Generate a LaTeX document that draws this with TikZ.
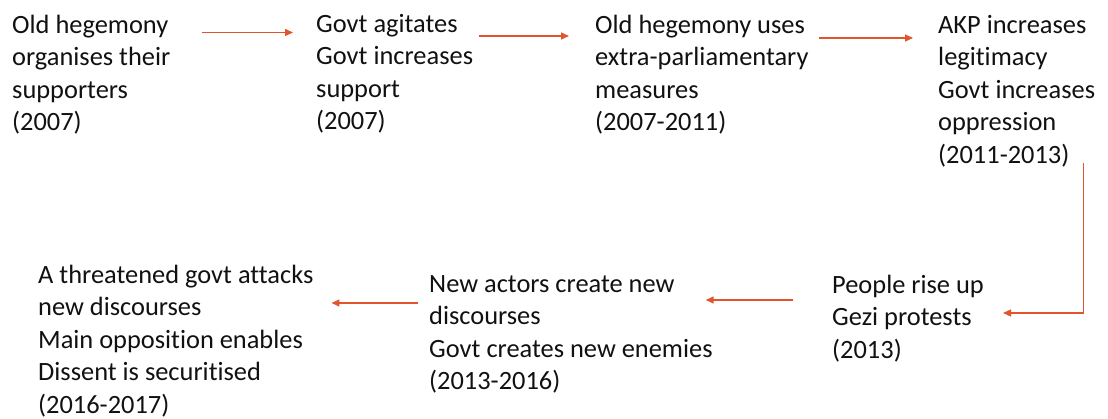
\documentclass[tikz,border=0pt]{standalone}
\usepackage{fontspec}
\setmainfont{Carlito}[Ligatures=NoCommon]
\usetikzlibrary{arrows.meta,positioning}
\definecolor{ink}{HTML}{111111}
\definecolor{rust}{HTML}{E0552B}

\begin{document}
\begin{tikzpicture}[x=1pt,y=-1pt,
    stage/.style={anchor=north west,inner sep=0pt,align=left,text=ink,
                  font=\fontsize{26.4}{32.5}\selectfont},
    flow/.style={draw=rust,line width=1.5pt,-{Triangle[length=8pt,width=7pt]}}]
  \useasboundingbox[fill=white] (0,0) rectangle (1108,419);

  % top row
  \node[stage] (old)   at (12,10.25)  {\strut Old hegemony\\organises their\\supporters\\(2007)};
  \node[stage] (agit)  at (316,9.25)  {\strut Govt agitates\\Govt increases\\support\\(2007)};
  \node[stage] (extra) at (595,10.25) {\strut Old hegemony uses\\extra-parliamentary\\measures\\(2007-2011)};
  \node[stage] (akp)   at (938,10.25) {\strut AKP increases\\legitimacy\\Govt increases\\oppression\\(2011-2013)};

  % bottom row
  \node[stage] (gezi)   at (832,270.25) {\strut People rise up\\Gezi protests\\(2013)};
  \node[stage] (actors) at (429,269.25) {\strut New actors create new\\discourses\\Govt creates new enemies\\(2013-2016)};
  \node[stage] (threat) at (38,260.25)  {\strut A threatened govt attacks\\new discourses\\Main opposition enables\\Dissent is securitised\\(2016-2017)};

  \draw[flow] ([xshift=31pt,yshift=-22.25pt]old.north east) -- ([xshift=-23pt,yshift=-23.25pt]agit.north west);
  \draw[flow] ([xshift=6pt,yshift=-26.75pt]agit.north east) -- ([xshift=-26pt,yshift=-25.75pt]extra.north west);
  \draw[flow] ([xshift=10pt,yshift=-27.75pt]extra.north east) -- ([xshift=-25pt,yshift=-27.75pt]akp.north west);
  \draw[flow] ([xshift=-12pt,yshift=4pt]akp.south east) |- ([xshift=19pt,yshift=-42.75pt]gezi.north east);
  \draw[flow] ([xshift=-39pt,yshift=-29.75pt]gezi.north west) -- ([xshift=-7pt,yshift=-30.75pt]actors.north east);
  \draw[flow] ([xshift=-11pt,yshift=-33.75pt]actors.north west) -- ([xshift=18pt,yshift=-42.75pt]threat.north east);
\end{tikzpicture}
\end{document}
